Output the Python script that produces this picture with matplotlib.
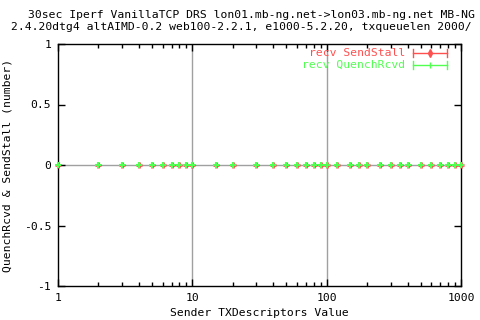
import matplotlib
matplotlib.use("Agg")
import matplotlib.pyplot as plt
from matplotlib.ticker import FixedLocator, NullFormatter, LogLocator

txdesc = [1, 2, 3, 4, 5, 6, 7, 8, 9, 10, 15, 20, 30, 40, 50, 60, 70, 80, 90, 100,
          120, 150, 175, 200, 250, 300, 350, 400, 500, 600, 700, 800, 900, 1000]
send_stall = [0] * len(txdesc)
quench_rcvd = [0] * len(txdesc)

title1 = "30sec Iperf VanillaTCP DRS lon01.mb-ng.net->lon03.mb-ng.net MB-NG"
title2 = "2.4.20dtg4 altAIMD-0.2 web100-2.2.1, e1000-5.2.20, txqueuelen 2000/"
xlabel = "Sender TXDescriptors Value"
ylabel = "QuenchRcvd & SendStall (number)"
yticks = [-1, -0.5, 0, 0.5, 1]
ytick_labels = ["-1", "-0.5", "0", "0.5", "1"]
xticks = [1, 10, 100, 1000]
xtick_labels = ["1", "10", "100", "1000"]

RED = "#ff5050"
GREEN = "#50ff50"
FONT = "DejaVu Sans Mono"
FS = 8.2

fig = plt.figure(figsize=(4.8, 3.2), dpi=100)
ax = fig.add_axes([58/480, 34/320, (461-58)/480, (286-44)/320])
ax.set_xscale("log")
ax.set_xlim(1, 1000)
ax.set_ylim(-1, 1)

for gx in [10, 100]:
    ax.axvline(gx, color="#a0a0a0", lw=1, zorder=0)
ax.axhline(0, color="#a0a0a0", lw=1, zorder=0)

ax.errorbar(txdesc, send_stall, yerr=0, fmt="+", color=RED, ms=5, mew=2,
            capsize=0, zorder=3, clip_on=False)
ax.errorbar(txdesc, quench_rcvd, yerr=0, fmt="+", color=GREEN, ms=5, mew=1.5,
            capsize=0, zorder=4, clip_on=False)

ax.xaxis.set_major_locator(FixedLocator(xticks))
ax.set_xticklabels(xtick_labels, fontfamily=FONT, fontsize=FS)
ax.xaxis.set_minor_locator(LogLocator(base=10, subs=range(2, 10)))
ax.xaxis.set_minor_formatter(NullFormatter())
ax.set_yticks(yticks)
ax.set_yticklabels(ytick_labels, fontfamily=FONT, fontsize=FS)
ax.tick_params(which="both", direction="in", top=True, right=True, width=1)
ax.tick_params(which="major", length=5)
ax.tick_params(axis="x", which="major", pad=5)
ax.tick_params(axis="y", which="major", pad=5)
ax.tick_params(which="minor", length=3)
for s in ax.spines.values():
    s.set_linewidth(1)
    s.set_color("black")

fig.text(259/480, 1 - 313/320, xlabel, fontfamily=FONT, fontsize=FS, ha="center", va="center")
fig.text(8/480, 1 - 165/320, ylabel, fontfamily=FONT, fontsize=FS, ha="center", va="center",
         rotation=90)

fig.text(28/480, 1 - 15/320, title1, fontfamily=FONT, fontsize=FS, va="center", ha="left")
fig.text(11/480, 1 - 27.5/320, title2, fontfamily=FONT, fontsize=FS, va="center", ha="left")

for (lab, col, yy, mk) in [("recv SendStall", RED, 52.5, "d"), ("recv QuenchRcvd", GREEN, 65, "|")]:
    fy = 1 - yy/320
    fig.text(405/480, fy, lab, color=col, fontfamily=FONT, fontsize=FS, ha="right", va="center")
    fig.lines.append(plt.Line2D([413/480, 447/480], [fy, fy], color=col, lw=1, transform=fig.transFigure))
    for ex in (413, 447):
        fig.lines.append(plt.Line2D([ex/480, ex/480], [fy - 4/320, fy + 4/320], color=col, lw=1, transform=fig.transFigure))
    fig.lines.append(plt.Line2D([430/480], [fy], color=col, marker=mk, ms=4, lw=0, transform=fig.transFigure))

fig.savefig("out.png", dpi=100)
